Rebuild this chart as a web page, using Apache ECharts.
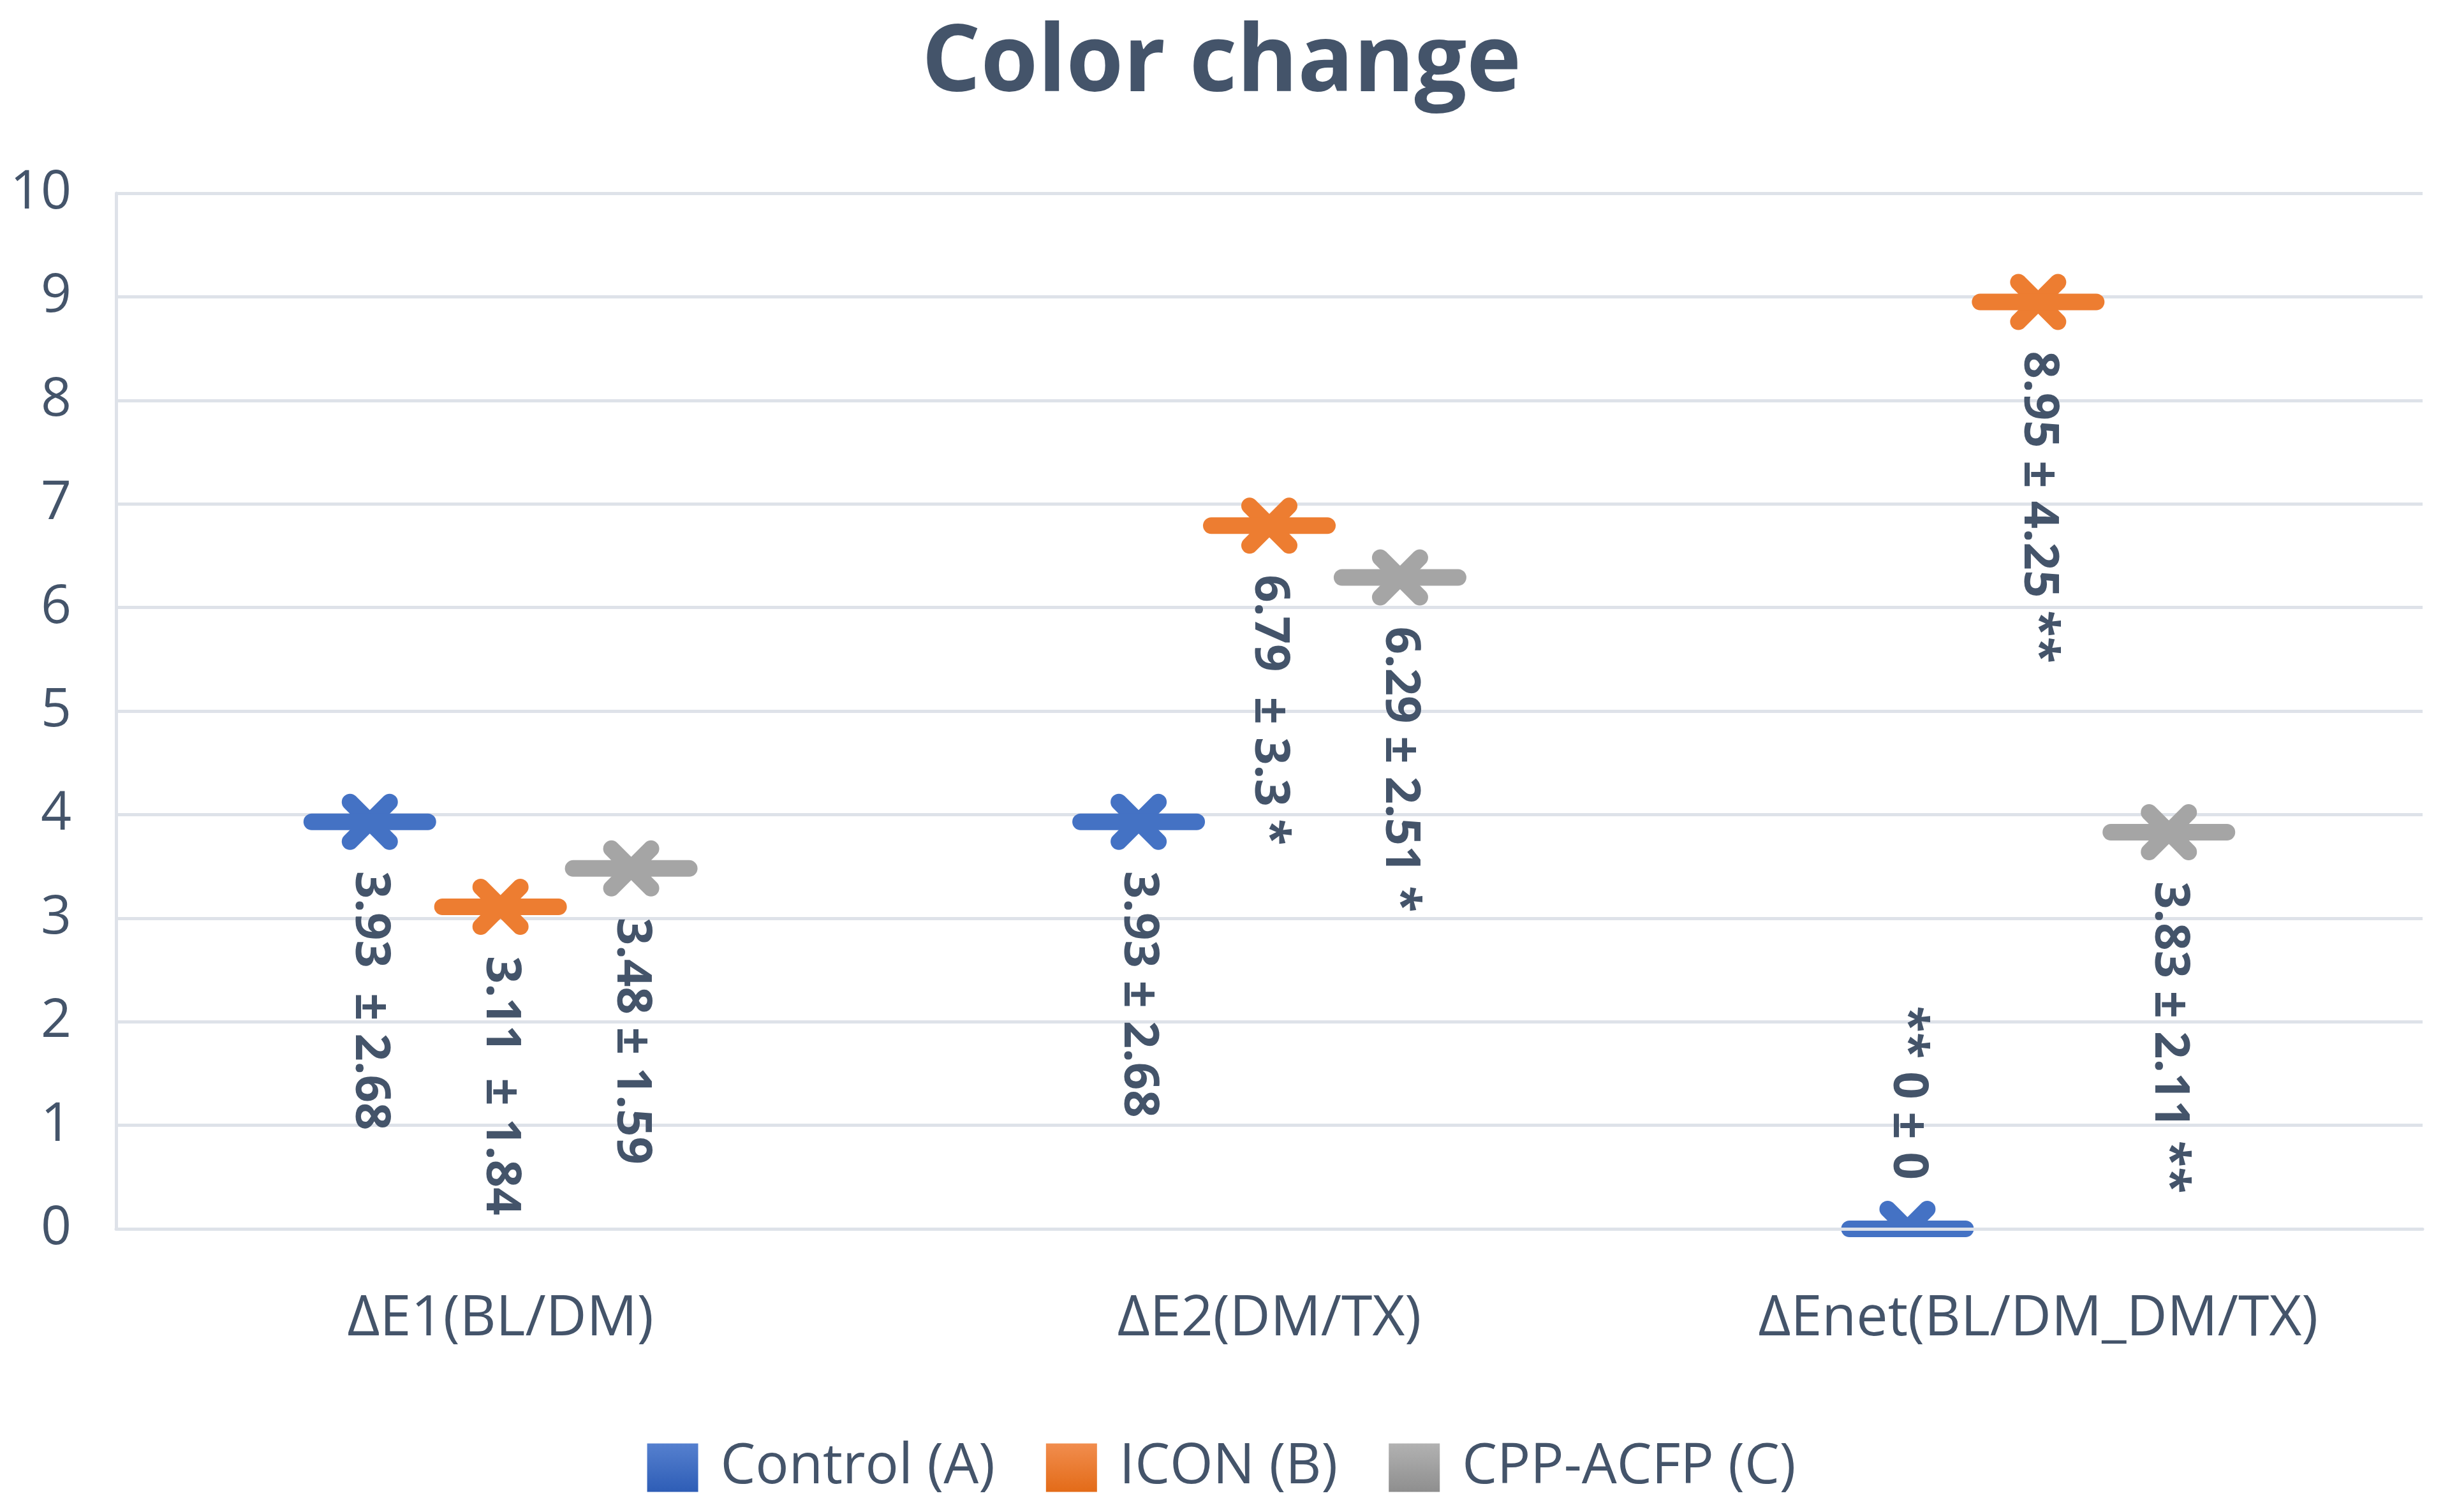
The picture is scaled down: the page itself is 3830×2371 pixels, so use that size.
<!DOCTYPE html>
<html>
<head>
<meta charset="utf-8">
<script src="https://cdn.jsdelivr.net/npm/echarts@6/dist/echarts.min.js"></script>
<style>
  html, body { margin: 0; padding: 0; background: #ffffff; }
  #chart { width: 3830px; height: 2371px; }
</style>
</head>
<body>
<div id="chart"></div>
<script>
// ---- data ----
const categories = ['ΔE1(BL/DM)', 'ΔE2(DM/TX)', 'ΔEnet(BL/DM_DM/TX)'];
const seriesNames = ['Control (A)', 'ICON (B)', 'CPP-ACFP (C)'];
const controlValues = [3.93, 3.93, 0];
const iconValues = [3.11, 6.79, 8.95];
const cppValues = [3.48, 6.29, 3.83];
const controlLabels = ['3.93  ± 2.68', '3.93 ± 2.68', '** 0 ± 0'];
const iconLabels = ['3.11  ± 1.84', '6.79  ± 3.3 *', '8.95 ± 4.25 **'];
const cppLabels = ['3.48 ± 1.59', '6.29 ± 2.51 *', '3.83 ± 2.11 **'];
const yMin = 0, yMax = 10, yInterval = 1;

// ---- styles ----
const TEXT = '#44546A';
const GRID = '#DEE2E9';
const FONT = '"Open Sans", "Noto Sans", sans-serif';
const colors = ['#4472C4', '#ED7D31', '#A5A5A5'];
const legendGradients = [
  ['#5580CF', '#2E5DB6'],
  ['#F18D4E', '#E36B18'],
  ['#B2B2B2', '#8E8E8E']
];
const SPREAD = 0.17;      // fraction of category band between series
const HALF_LINE = 91;     // half length of the horizontal bar of the marker
const ARM = 31;           // diagonal arm reach of the marker
const STROKE = 26;
const LABEL_GAP = 77;
const LABEL_SIZE = 76;

const allValues = [controlValues, iconValues, cppValues];
const allLabels = [controlLabels, iconLabels, cppLabels];

function renderItem(params, api) {
  const cat = api.value(0);
  const val = api.value(1);
  const pt = api.coord([cat, val]);
  const band = api.size([1, 0])[0];
  const cx = pt[0] + (params.seriesIndex - 1) * band * SPREAD;
  const cy = pt[1];
  const cs = params.coordSys;
  const clipBottom = cs.y + cs.height;
  const color = api.visual('color');
  const lineStyle = { stroke: color, lineWidth: STROKE, lineCap: 'round' };
  const children = [];
  // diagonal arms (clipped at the plot bottom)
  [[-1, -1], [1, -1], [-1, 1], [1, 1]].forEach(function (d) {
    let ex = cx + d[0] * ARM, ey = cy + d[1] * ARM;
    if (ey > clipBottom) {
      const len = clipBottom - cy;
      if (len <= 0) return;
      ex = cx + d[0] * len; ey = clipBottom;
    }
    children.push({ type: 'line', shape: { x1: cx, y1: cy, x2: ex, y2: ey }, style: lineStyle });
  });
  children.push({ type: 'line', shape: { x1: cx - HALF_LINE, y1: cy, x2: cx + HALF_LINE, y2: cy }, style: lineStyle });
  const text = allLabels[params.seriesIndex][params.dataIndex];
  const above = val <= yMin;
  children.push({
    type: 'text',
    x: cx,
    y: above ? cy - LABEL_GAP : cy + LABEL_GAP,
    rotation: -Math.PI / 2,
    style: {
      text: text,
      fill: TEXT,
      fontSize: LABEL_SIZE,
      fontWeight: 'bold',
      fontFamily: FONT,
      align: above ? 'right' : 'left',
      verticalAlign: 'middle'
    }
  });
  return { type: 'group', children: children };
}

const series = seriesNames.map(function (name, si) {
  return {
    name: name,
    type: 'custom',
    renderItem: renderItem,
    itemStyle: { color: colors[si] },
    encode: { x: 0, y: 1 },
    clip: false,
    z: 2,
    data: allValues[si].map(function (v, i) { return [i, v]; })
  };
});

const chart = echarts.init(document.getElementById('chart'), null, { renderer: 'canvas' });
chart.setOption({
  backgroundColor: '#ffffff',
  animation: false,
  title: {
    text: 'Color change',
    left: 'center',
    top: 24,
    textStyle: { color: TEXT, fontSize: 145, fontWeight: 'bold', fontFamily: FONT }
  },
  legend: {
    left: 'center',
    top: 2253,
    icon: 'rect',
    itemWidth: 80,
    itemHeight: 76,
    itemGap: 80,
    formatter: '{t|{name}}',
    textStyle: {
      color: TEXT, fontSize: 87, fontFamily: FONT,
      rich: { t: { color: TEXT, fontSize: 87, fontFamily: FONT, padding: [0, 0, 0, 30] } }
    },
    data: seriesNames.map(function (n, i) {
      return {
        name: n,
        itemStyle: {
          color: new echarts.graphic.LinearGradient(0, 0, 0, 1, [
            { offset: 0, color: legendGradients[i][0] },
            { offset: 1, color: legendGradients[i][1] }
          ])
        }
      };
    })
  },
  grid: { left: 182, right: 32, top: 303, bottom: 444, containLabel: false },
  xAxis: {
    type: 'category',
    data: categories,
    z: 3,
    axisLine: { show: true, lineStyle: { color: GRID, width: 5 } },
    axisTick: { show: false },
    axisLabel: { color: TEXT, fontSize: 88, fontFamily: FONT, margin: 98 },
    splitLine: { show: false }
  },
  yAxis: {
    type: 'value',
    min: yMin,
    max: yMax,
    interval: yInterval,
    axisLine: { show: true, lineStyle: { color: GRID, width: 5 } },
    axisTick: { show: false },
    axisLabel: { color: TEXT, fontSize: 84, fontFamily: FONT, margin: 70 },
    splitLine: { show: true, lineStyle: { color: GRID, width: 5 } }
  },
  series: series
});
</script>
</body>
</html>
